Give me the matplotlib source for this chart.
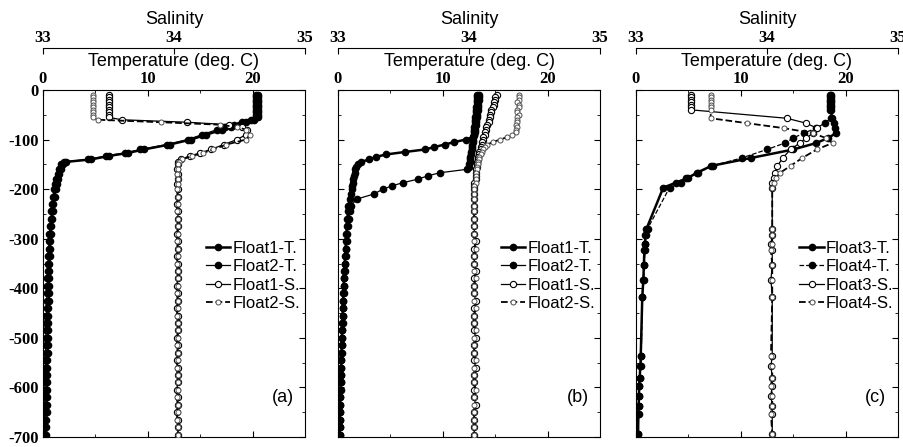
import matplotlib
matplotlib.use('Agg')
import matplotlib.pyplot as plt
from matplotlib.ticker import MultipleLocator

SERIF = 'Liberation Serif'
SANS = 'Liberation Sans'

# ---------------- panel (a) ----------------
depth_a = [-10, -15, -20, -25, -30, -35, -40, -45, -50, -55,
           -60, -65, -70, -75, -80, -90, -100, -110, -120, -127, -133, -140, -145,
           -150, -160, -170, -180, -190, -200,
           -215, -230, -245, -260, -275, -290, -305, -320, -335, -350, -365,
           -380, -395, -410, -425, -440, -455, -470, -485, -500, -515, -530,
           -545, -560, -575, -590, -605, -620, -635, -650, -665, -680, -695]
temp_a1 = [20.5, 20.5, 20.5, 20.5, 20.5, 20.5, 20.5, 20.5, 20.5, 20.5,
           20.1, 19.4, 18.7, 17.9, 17.1, 15.6, 14.1, 12.1, 9.6, 8.1, 6.3, 4.6, 2.2,
           1.9, 1.75, 1.55, 1.4, 1.3, 1.2,
           1.1, 1.0, 0.93, 0.86, 0.8, 0.74, 0.7, 0.67, 0.65, 0.62, 0.6,
           0.58, 0.57, 0.56, 0.54, 0.52, 0.51, 0.49, 0.47, 0.46, 0.45, 0.43,
           0.42, 0.41, 0.4, 0.38, 0.37, 0.36, 0.35, 0.34, 0.33, 0.32, 0.31]
temp_a2 = [20.3, 20.3, 20.3, 20.3, 20.3, 20.3, 20.3, 20.3, 20.3, 20.3,
           19.8, 19.0, 18.2, 17.4, 16.6, 15.2, 13.8, 11.8, 9.3, 7.8, 6.0, 4.3, 2.0,
           1.7, 1.55, 1.4, 1.25, 1.15, 1.05,
           0.95, 0.88, 0.8, 0.74, 0.68, 0.62, 0.57, 0.53, 0.5, 0.47, 0.44,
           0.42, 0.4, 0.38, 0.36, 0.34, 0.32, 0.3, 0.28, 0.26, 0.25, 0.24,
           0.23, 0.22, 0.21, 0.2, 0.19, 0.18, 0.17, 0.16, 0.15, 0.15, 0.14]
sal_a1 = [33.50, 33.50, 33.50, 33.50, 33.50, 33.50, 33.50, 33.50, 33.50, 33.50,
          33.6, 34.1, 34.42, 34.52, 34.56, 34.55, 34.48, 34.38, 34.28, 34.2, 34.12, 34.05, 34.03,
          34.03, 34.02, 34.03, 34.03, 34.02, 34.03,
          34.03, 34.02, 34.03, 34.03, 34.03, 34.02, 34.03, 34.03, 34.02, 34.03, 34.03,
          34.03, 34.02, 34.03, 34.03, 34.02, 34.03, 34.03, 34.03, 34.02, 34.03, 34.03,
          34.02, 34.03, 34.03, 34.03, 34.02, 34.03, 34.03, 34.02, 34.03, 34.03, 34.03]
sal_a2 = [33.38, 33.38, 33.38, 33.38, 33.38, 33.38, 33.38, 33.38, 33.38, 33.38,
          33.42, 33.9, 34.35, 34.48, 34.55, 34.58, 34.55, 34.4, 34.3, 34.22, 34.14, 34.06, 34.04,
          34.03, 34.03, 34.02, 34.03, 34.03, 34.02,
          34.03, 34.03, 34.02, 34.03, 34.03, 34.03, 34.02, 34.03, 34.03, 34.02, 34.03,
          34.03, 34.03, 34.02, 34.03, 34.03, 34.02, 34.03, 34.03, 34.03, 34.02, 34.03,
          34.03, 34.02, 34.03, 34.03, 34.03, 34.02, 34.03, 34.03, 34.02, 34.03, 34.03]

# ---------------- panel (b) ----------------
depth_b = [-10, -15, -20, -25, -30, -35, -40, -45, -50, -55, -60, -65, -70, -75, -80,
           -85, -90, -95, -100, -105, -110, -115, -120, -125, -130, -135, -140, -145,
           -150, -155, -160,
           -167, -173, -180, -187, -193, -200, -210, -220, -233, -245, -260, -275,
           -290, -305, -320, -335, -350, -365, -380, -395, -410, -425, -440, -455,
           -470, -485, -500, -515, -530, -545, -560, -575, -590, -605, -620, -635,
           -650, -665, -680, -695]
temp_b1 = [13.5, 13.45, 13.45, 13.4, 13.4, 13.35, 13.35, 13.3, 13.3, 13.25, 13.2, 13.2,
           13.15, 13.1, 13.1, 13.05, 13.0, 12.9,
           12.2, 11.1, 10.2, 9.2, 8.3, 6.4, 4.6, 3.6, 3.0, 2.2, 1.9, 1.75, 1.65,
           1.6, 1.5, 1.45, 1.4, 1.35, 1.3, 1.2, 1.1, 1.0, 0.95, 0.9, 0.85,
           0.8, 0.76, 0.72, 0.68, 0.64, 0.6, 0.57, 0.54, 0.51, 0.48, 0.45, 0.43,
           0.41, 0.39, 0.37, 0.35, 0.33, 0.31, 0.29, 0.27, 0.25, 0.23, 0.21, 0.2,
           0.19, 0.18, 0.17, 0.16]
temp_b2 = [13.3, 13.28, 13.26, 13.24, 13.22, 13.2, 13.18, 13.16, 13.14, 13.12, 13.1,
           13.08, 13.05, 13.02, 13.0, 12.97, 12.94, 12.9, 12.87, 12.84, 12.8, 12.77,
           12.74, 12.7, 12.67, 12.64, 12.6, 12.56, 12.52, 12.48, 12.3,
           9.7, 8.6, 7.6, 6.2, 5.2, 4.3, 3.4, 1.8, 1.25, 1.15, 1.05, 0.95,
           0.88, 0.82, 0.77, 0.72, 0.68, 0.64, 0.6, 0.57, 0.54, 0.51, 0.48, 0.45,
           0.43, 0.41, 0.39, 0.37, 0.35, 0.33, 0.31, 0.29, 0.27, 0.25, 0.23, 0.21,
           0.2, 0.19, 0.18, 0.17]
sal_b1 = [34.21, 34.2, 34.2, 34.19, 34.19, 34.18, 34.17, 34.17, 34.16, 34.16, 34.15,
          34.15, 34.14, 34.13, 34.13, 34.12, 34.12, 34.11,
          34.11, 34.1, 34.1, 34.09, 34.09, 34.08, 34.08, 34.07, 34.07, 34.06, 34.06,
          34.06, 34.05,
          34.05, 34.05, 34.05, 34.04, 34.04, 34.04, 34.04, 34.04, 34.04, 34.04, 34.04, 34.04,
          34.04, 34.05, 34.04, 34.04, 34.04, 34.05, 34.04, 34.04, 34.04, 34.05, 34.04, 34.04,
          34.04, 34.04, 34.05, 34.04, 34.04, 34.04, 34.05, 34.04, 34.04, 34.04, 34.04, 34.05,
          34.04, 34.04, 34.04, 34.04]
sal_b2 = [34.38, 34.38, 34.38, 34.37, 34.38, 34.38, 34.37, 34.37, 34.38, 34.37, 34.37,
          34.37, 34.36, 34.37, 34.36, 34.36,
          34.33, 34.29, 34.24, 34.18, 34.14, 34.12, 34.11, 34.1, 34.09, 34.08, 34.08,
          34.07, 34.07, 34.06, 34.06,
          34.05, 34.05, 34.05, 34.05, 34.04, 34.04, 34.04, 34.04, 34.04, 34.04, 34.04, 34.04,
          34.04, 34.04, 34.05, 34.04, 34.04, 34.04, 34.05, 34.04, 34.04, 34.04, 34.05, 34.04,
          34.04, 34.05, 34.04, 34.04, 34.04, 34.05, 34.04, 34.04, 34.04, 34.05, 34.04, 34.04,
          34.04, 34.04, 34.04, 34.04]

# ---------------- panel (c) ----------------
depth_c = [-10, -15, -20, -25, -30, -35, -40,
           -57, -67, -77, -87, -97, -107, -120, -137, -153, -167, -177, -187, -197,
           -280, -293, -310, -323, -353, -383, -417,
           -537, -557, -580, -597, -617, -637, -653, -693]
temp_c3 = [18.6, 18.6, 18.6, 18.6, 18.6, 18.6, 18.6,
           18.7, 18.9, 19.0, 19.1, 18.3, 17.2, 15.0, 11.0, 7.2, 5.8, 5.0, 3.8, 2.6,
           1.0, 0.9, 0.85, 0.8, 0.75, 0.7, 0.6,
           0.45, 0.42, 0.35, 0.3, 0.28, 0.25, 0.22, 0.2]
temp_c4 = [18.5, 18.5, 18.5, 18.5, 18.5, 18.5, 18.5,
           18.6, 18.0, 17.2, 16.0, 15.0, 14.2, 12.5, 10.1, 7.3, 5.9, 4.8, 4.3, 3.2,
           1.1, 0.95, 0.9, 0.85, 0.8, 0.72, 0.62,
           0.5, 0.45, 0.38, 0.32, 0.3, 0.27, 0.24, 0.22]
sal_c3 = [33.42, 33.42, 33.42, 33.42, 33.42, 33.42, 33.42,
          34.15, 34.3, 34.38, 34.35, 34.3, 34.25, 34.18, 34.12, 34.08, 34.06, 34.05, 34.04, 34.04,
          34.04, 34.04, 34.03, 34.04, 34.04, 34.03, 34.04,
          34.04, 34.03, 34.04, 34.04, 34.03, 34.04, 34.04, 34.04]
sal_c4 = [33.57, 33.57, 33.57, 33.57, 33.57, 33.57, 33.57,
          33.57, 33.85, 34.13, 34.35, 34.45, 34.5, 34.38, 34.27, 34.18, 34.1, 34.07, 34.05, 34.04,
          34.04, 34.04, 34.04, 34.03, 34.04, 34.04, 34.04,
          34.03, 34.04, 34.04, 34.03, 34.04, 34.04, 34.03, 34.04]

panels = [
    ('(a)', depth_a, ['Float1', 'Float2'], [temp_a1, temp_a2], [sal_a1, sal_a2], '-'),
    ('(b)', depth_b, ['Float1', 'Float2'], [temp_b1, temp_b2], [sal_b1, sal_b2], '-'),
    ('(c)', depth_c, ['Float3', 'Float4'], [temp_c3, temp_c4], [sal_c3, sal_c4], '--'),
]

depth_ticks = [0, -100, -200, -300, -400, -500, -600, -700]
depth_labels = ['0', '-100', '-200', '-300', '-400', '-500', '-600', '-700']

fig = plt.figure(figsize=(9.04, 4.47), dpi=100)
lefts = [43, 338, 636]

for k, (tag, depth, names, temps, sals, ls2) in enumerate(panels):
    ax = fig.add_axes([lefts[k] / 904, 10 / 447, 262 / 904, 347 / 447])
    ax2 = ax.twiny()

    h1, = ax.plot(temps[0], depth, color='k', lw=1.8, marker='o', ms=4.5,
                  mfc='k', mec='k', label=names[0] + '-T.')
    h2, = ax.plot(temps[1], depth, color='k', lw=0.9, ls=ls2, marker='o', ms=4.5,
                  mfc='k', mec='k', label=names[1] + '-T.')
    h3, = ax2.plot(sals[0], depth, color='k', lw=0.9, marker='o', ms=4.5,
                   mfc='white', mec='k', mew=0.8, label=names[0] + '-S.')
    h4, = ax2.plot(sals[1], depth, color='k', lw=1.3, ls='--', marker='o', ms=3.6,
                   mfc='white', mec='0.3', mew=0.7, label=names[1] + '-S.')

    ax.set_xlim(0, 25)
    ax.set_ylim(-700, 0)
    ax2.set_xlim(33, 35)

    # temperature axis on top of the frame
    ax.xaxis.set_label_position('top')
    ax.set_xticks([0, 10, 20], ['0', '10', '20'], fontfamily=SERIF,
                  fontweight='bold', fontsize=12)
    ax.xaxis.set_minor_locator(MultipleLocator(5))
    ax.tick_params(axis='x', which='both', direction='in', top=True, bottom=True,
                   labeltop=True, labelbottom=False, pad=2)
    ax.set_xlabel('Temperature (deg. C)', fontfamily=SANS, fontsize=13, labelpad=4)

    # depth axis
    if k == 0:
        ax.set_yticks(depth_ticks, depth_labels, fontfamily=SERIF,
                      fontweight='bold', fontsize=12)
    else:
        ax.set_yticks(depth_ticks, [''] * len(depth_ticks))
    ax.yaxis.set_minor_locator(MultipleLocator(50))
    ax.tick_params(axis='y', which='both', direction='in', left=True, right=True, pad=3)
    ax.tick_params(which='major', length=4)
    ax.tick_params(which='minor', length=2.5)

    # salinity axis, floating above the temperature axis
    ax2.spines['top'].set_position(('axes', 1.12))
    for s in ['left', 'right', 'bottom']:
        ax2.spines[s].set_visible(False)
    ax2.set_xticks([33, 34, 35], ['33', '34', '35'], fontfamily=SERIF,
                   fontweight='bold', fontsize=12)
    ax2.tick_params(axis='x', direction='in', length=4, pad=2)
    ax2.set_xlabel('Salinity', fontfamily=SANS, fontsize=13, labelpad=4)

    ax2.legend(handles=[h1, h2, h3, h4], loc='center right',
               bbox_to_anchor=(0.98, 0.464), frameon=False,
               prop={'family': SANS, 'size': 12}, handlelength=1.45,
               handletextpad=0.1, labelspacing=0.2, borderpad=0, borderaxespad=0)

    ax2.text(0.915, 0.115, tag, transform=ax.transAxes, ha='center', va='center',
             fontfamily=SANS, fontsize=13)

fig.savefig('out.png', dpi=100)
